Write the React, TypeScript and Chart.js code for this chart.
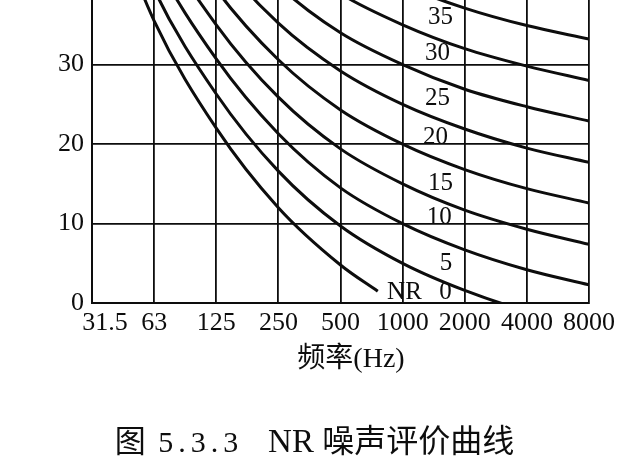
import React, { useEffect, useRef } from "react";
import { Chart, registerables } from "chart.js";

Chart.register(...registerables);

// Octave-band centre frequencies (Hz) shown on the x axis
const freqLabels = ["31.5", "63", "125", "250", "500", "1000", "2000", "4000", "8000"];

// NR curves: sound pressure level (dB) per octave band
const nr0Values = [55.4, 35.5, 22.0, 12.0, 4.8, 1.5];
const nr0Bands = [0, 1, 2, 3, 4, 4.6]; // NR 0 stops at its label
const nr5Values = [58.8, 39.4, 26.3, 16.6, 9.7, 5.0, 1.6, -1.0, -2.8];
const nr10Values = [62.2, 43.4, 30.7, 21.3, 14.5, 10.0, 6.7, 4.2, 2.3];
const nr15Values = [65.6, 47.3, 35.0, 25.9, 19.4, 15.0, 11.7, 9.3, 7.4];
const nr20Values = [69.0, 51.3, 39.4, 30.6, 24.3, 20.0, 16.8, 14.4, 12.6];
const nr25Values = [72.4, 55.2, 43.7, 35.2, 29.2, 25.0, 21.9, 19.5, 17.7];
const nr30Values = [75.8, 59.2, 48.1, 39.9, 34.0, 30.0, 26.9, 24.7, 22.9];
const nr35Values = [79.2, 63.1, 52.4, 44.5, 38.9, 35.0, 32.0, 29.8, 28.0];
const nr40Values = [82.6, 67.1, 56.8, 49.2, 43.8, 40.0, 37.1, 34.9, 33.2];

// Curve labels (text, band position, level in dB)
const curveLabelText = ["35", "30", "25", "20", "15", "10", "5", "NR", "0"];
const curveLabelBand = [5.61, 5.56, 5.56, 5.53, 5.61, 5.59, 5.7, 5.03, 5.69];
const curveLabelLevel = [35.9, 31.4, 25.7, 20.8, 15.1, 10.8, 5.0, 1.4, 1.4];

const yMin = 0;
const yMax = 40;
const yStep = 10;

const xTitle = "频率(Hz)";
const captionParts = ["图", " 5.3.3", "   NR ", "噪声评价曲线"];

const SERIF = '"Liberation Serif", "Times New Roman", "Noto Sans CJK SC", serif';
const CJK = '"Noto Sans CJK SC", "Liberation Serif", sans-serif';
const INK = "#0d0d0d";

export default function App() {
  const canvasRef = useRef<HTMLCanvasElement | null>(null);

  useEffect(() => {
    const canvas = canvasRef.current;
    if (!canvas) return;

    const toPoints = (vals: number[], bands?: number[]) =>
      vals.map((v, i) => ({ x: bands ? bands[i] : i, y: v }));

    const series: { name: string; pts: { x: number; y: number }[] }[] = [
      { name: "NR 0", pts: toPoints(nr0Values, nr0Bands) },
      { name: "NR 5", pts: toPoints(nr5Values) },
      { name: "NR 10", pts: toPoints(nr10Values) },
      { name: "NR 15", pts: toPoints(nr15Values) },
      { name: "NR 20", pts: toPoints(nr20Values) },
      { name: "NR 25", pts: toPoints(nr25Values) },
      { name: "NR 30", pts: toPoints(nr30Values) },
      { name: "NR 35", pts: toPoints(nr35Values) },
      { name: "NR 40", pts: toPoints(nr40Values) },
    ];

    const labelPlugin = {
      id: "curveLabels",
      afterDatasetsDraw(chart: any) {
        const { ctx, scales } = chart;
        const xs = scales.x;
        const ys = scales.y;
        ctx.save();
        ctx.font = `25px ${SERIF}`;
        ctx.fillStyle = INK;
        ctx.textAlign = "center";
        ctx.textBaseline = "middle";
        curveLabelText.forEach((t, i) => {
          ctx.fillText(t, xs.getPixelForValue(curveLabelBand[i]), ys.getPixelForValue(curveLabelLevel[i]));
        });
        ctx.restore();
      },
    };

    const chart = new Chart(canvas, {
      type: "line",
      data: {
        datasets: series.map((s) => ({
          label: s.name,
          data: s.pts,
          borderColor: INK,
          backgroundColor: INK,
          borderWidth: 3,
          pointRadius: 0,
          fill: false,
          cubicInterpolationMode: "monotone" as const,
          clip: 0,
        })),
      },
      options: {
        animation: false,
        responsive: true,
        maintainAspectRatio: false,
        devicePixelRatio: 1,
        layout: { padding: { top: 30, left: 50, right: 40, bottom: 90 } },
        plugins: {
          legend: { display: false },
          tooltip: { enabled: false },
          title: { display: false },
        },
        scales: {
          x: {
            type: "linear",
            min: 0,
            max: freqLabels.length - 1,
            grid: { color: INK, lineWidth: 1.8, drawTicks: false },
            border: { color: INK, width: 2 },
            ticks: {
              stepSize: 1,
              autoSkip: false,
              maxRotation: 0,
              padding: 4,
              color: INK,
              font: { family: SERIF, size: 26 },
              callback: (v: any) => {
                const lbl = freqLabels[Number(v)] ?? "";
                return Number(v) === 0 ? "    " + lbl : lbl;
              },
            },
            title: {
              display: true,
              text: "   " + xTitle,
              color: INK,
              font: { family: SERIF, size: 28 },
              padding: { top: 0, bottom: 4 },
            },
          },
          y: {
            type: "linear",
            min: yMin,
            max: yMax,
            grid: { color: INK, lineWidth: 1.8, drawTicks: false },
            border: { color: INK, width: 2 },
            ticks: {
              stepSize: yStep,
              padding: 8,
              color: INK,
              font: { family: SERIF, size: 26 },
            },
          },
        },
      },
      plugins: [labelPlugin],
    });

    return () => chart.destroy();
  }, []);

  return (
    <div
      style={{
        position: "fixed",
        left: 0,
        top: 0,
        width: 629,
        height: 470,
        overflow: "hidden",
        background: "#fff",
      }}
    >
      <div style={{ position: "absolute", left: 0, top: -45, width: 629, height: 515 }}>
        <canvas ref={canvasRef} />
      </div>
      <div
        style={{
          position: "absolute",
          left: 0,
          top: 420,
          width: 629,
          height: 36,
          lineHeight: "36px",
          textAlign: "center",
          whiteSpace: "pre",
          color: INK,
        }}
      >
        <span style={{ fontFamily: CJK, fontSize: 31 }}>{captionParts[0]}</span>
        <span style={{ fontFamily: SERIF, fontSize: 30, letterSpacing: 5 }}>{captionParts[1]}</span>
        <span style={{ fontFamily: SERIF, fontSize: 33 }}>{captionParts[2]}</span>
        <span style={{ fontFamily: CJK, fontSize: 32 }}>{captionParts[3]}</span>
      </div>
    </div>
  );
}
